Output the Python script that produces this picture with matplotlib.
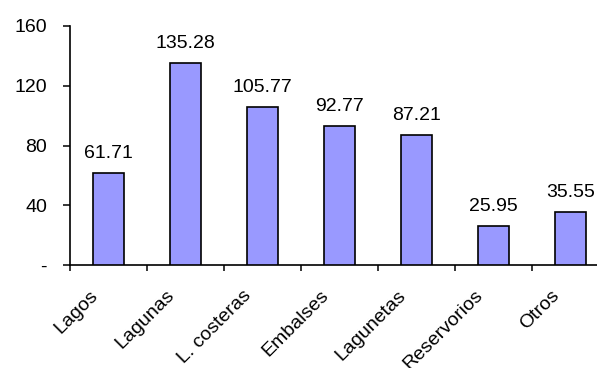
import matplotlib
matplotlib.use("Agg")
import matplotlib.pyplot as plt
import numpy as np

categories = ["Lagos", "Lagunas", "L. costeras", "Embalses", "Lagunetas", "Reservorios", "Otros"]
values = [61.71, 135.28, 105.77, 92.77, 87.21, 25.95, 35.55]
yticks = [0, 40, 80, 120, 160]
yticklabels = ["-", "40", "80", "120", "160"]

plt.rcParams['font.family'] = ['Liberation Sans', 'DejaVu Sans']
FS = 14

fig = plt.figure(figsize=(5.97, 3.68), dpi=100)
W, H = 597, 368
left, right, top, bottom = 70, 609, 26, 265
ax = fig.add_axes([left / W, (H - bottom) / H, (right - left) / W, (bottom - top) / H])

x = np.arange(len(categories))
ax.bar(x, values, width=0.4, color="#9999FF", edgecolor="black", linewidth=1.2, zorder=3)
for xi, v in zip(x, values):
    ax.annotate(f"{v:.2f}", xy=(xi, v), xytext=(0, 11), textcoords="offset pixels",
                ha="center", va="bottom", fontsize=FS)

ax.set_xlim(-0.5, len(categories) - 0.5)
ax.set_ylim(0, 160)
ax.set_yticks(yticks)
ax.set_yticklabels(yticklabels, fontsize=FS)
ax.set_xticks(np.arange(len(categories) + 1) - 0.5)
ax.set_xticklabels([])
for xi, cat in zip(x, categories):
    ax.annotate(cat, xy=(xi, 0), xycoords=("data", "axes fraction"),
                xytext=(-13.5, -28), textcoords="offset pixels",
                rotation=45, ha="right", va="center", rotation_mode="anchor",
                fontsize=FS, annotation_clip=False)
ax.tick_params(axis="x", which="major", length=4.3, width=1.1, direction="out")
ax.tick_params(axis="y", length=5, width=1.1, direction="out", pad=11.5)

for s in ["top", "right"]:
    ax.spines[s].set_visible(False)
ax.spines["left"].set_linewidth(1.2)
ax.spines["bottom"].set_linewidth(1.2)

fig.savefig("out.png", dpi=100)
